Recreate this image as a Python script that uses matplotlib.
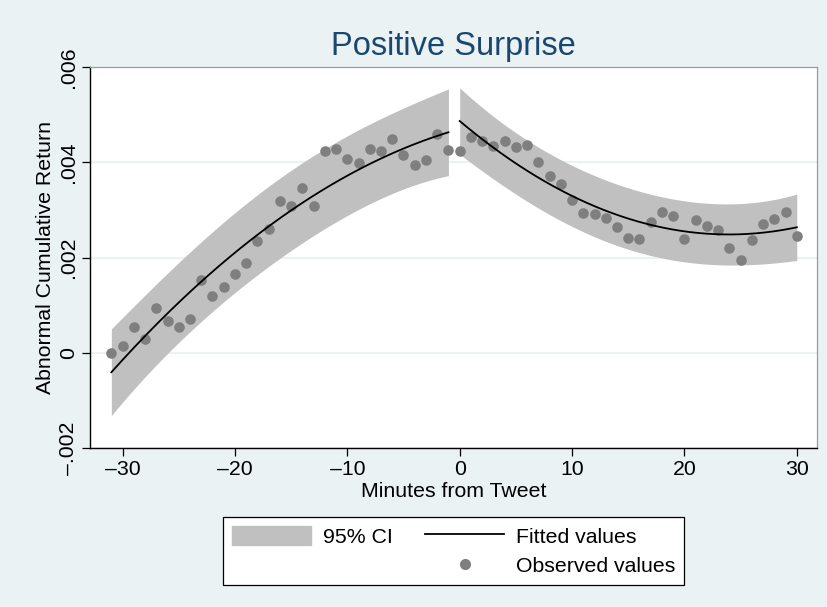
import numpy as np
import matplotlib.pyplot as plt
from matplotlib.patches import Patch
from matplotlib.lines import Line2D

plt.rcParams['font.family'] = ['Liberation Sans', 'DejaVu Sans']

# observed abnormal cumulative returns
minutes_pre = list(range(-31, 0))
car_pre = [0.0000, 0.000147, 0.000546, 0.000281, 0.000932, 0.000665, 0.000546,
           0.000701, 0.00152, 0.001183, 0.001372, 0.001658, 0.001876, 0.00235,
           0.00259, 0.003177, 0.003085, 0.00345, 0.003072, 0.004233, 0.004281,
           0.004059, 0.003988, 0.004281, 0.004233, 0.004491, 0.004143, 0.003946,
           0.004044, 0.004596, 0.004248]
minutes_post = list(range(0, 31))
car_post = [0.004233, 0.004541, 0.004443, 0.004338, 0.00445, 0.004331, 0.004373,
            0.004002, 0.003715, 0.00354, 0.003198, 0.002938, 0.002904, 0.00282,
            0.002644, 0.002401, 0.00238, 0.002749, 0.002946, 0.002875, 0.00238,
            0.002791, 0.002665, 0.002581, 0.002191, 0.001939, 0.002365, 0.0027,
            0.0028, 0.002946, 0.002449]

xticks = [-30, -20, -10, 0, 10, 20, 30]
xtick_labels = ['\u201330', '\u201320', '\u201310', '0', '10', '20', '30']
yticks = [-0.002, 0, 0.002, 0.004, 0.006]
ytick_labels = ['\u2013.002', '0', '.002', '.004', '.006']

BG = '#eaf2f3'
CI_COLOR = '#c0c0c0'
DOT_COLOR = '#7f7f7f'
FS = 15.3


def qfitci(x, y, t=2.048):
    # quadratic fit with forecast interval (like Stata qfitci, stdf)
    x = np.asarray(x, float)
    y = np.asarray(y, float)
    X = np.column_stack([np.ones_like(x), x, x ** 2])
    beta, *_ = np.linalg.lstsq(X, y, rcond=None)
    resid = y - X @ beta
    s2 = resid @ resid / (len(x) - 3)
    xs = np.linspace(x.min(), x.max(), 200)
    Xs = np.column_stack([np.ones_like(xs), xs, xs ** 2])
    xtx_inv = np.linalg.inv(X.T @ X)
    h = np.einsum('ij,jk,ik->i', Xs, xtx_inv, Xs)
    fit = Xs @ beta
    se = np.sqrt(s2 * (1 + h))
    return xs, fit, fit - t * se, fit + t * se


fig = plt.figure(figsize=(8.28, 6.07), dpi=100, facecolor=BG)
ax = fig.add_axes([0.1087, 0.2619, 0.878, 0.6277])
ax.set_facecolor('white')

for xm, ym in [(minutes_pre, car_pre), (minutes_post, car_post)]:
    xs, fit, lo, hi = qfitci(xm, ym)
    ax.fill_between(xs, lo, hi, color=CI_COLOR, lw=0, zorder=1)
    ax.plot(xs, fit, color='black', lw=1.3, zorder=3)

ax.scatter(minutes_pre + minutes_post, car_pre + car_post, s=58,
           color=DOT_COLOR, lw=0, zorder=2)

ax.set_xlim(-32.9, 31.8)
ax.set_ylim(-0.002, 0.006)
ax.set_xticks(xticks)
ax.set_xticklabels(xtick_labels)
ax.set_yticks(yticks)
ax.set_yticklabels(ytick_labels, rotation=90, va='center')
ax.tick_params(direction='out', length=6, width=0.9, labelsize=FS, colors='black',
               pad=2.5)
ax.grid(axis='y', color=BG, lw=1.5, zorder=0)
ax.set_axisbelow(True)

for side in ['left', 'bottom']:
    ax.spines[side].set_color('black')
    ax.spines[side].set_linewidth(1.0)
for side in ['top', 'right']:
    ax.spines[side].set_color('#9a9a9a')
    ax.spines[side].set_linewidth(0.9)

ax.set_title('Positive Surprise', fontsize=23.5, color='#1a476f', pad=9)
ax.set_xlabel('Minutes from Tweet', fontsize=FS, labelpad=2)
ax.set_ylabel('Abnormal Cumulative Return', fontsize=FS, labelpad=3)

handles = [Patch(color=CI_COLOR),
           Patch(alpha=0),
           Line2D([], [], color='black', lw=1.3),
           Line2D([], [], ls='', marker='o', ms=8, color=DOT_COLOR, mec='none')]
labels = ['95% CI', '', 'Fitted values', 'Observed values']
leg = fig.legend(handles, labels, ncol=2, loc='upper center',
                 bbox_to_anchor=(0.548, 0.1483), fontsize=FS, frameon=True,
                 fancybox=False, edgecolor='black', facecolor='white',
                 framealpha=1, handlelength=3.7,
                 handleheight=1.0, handletextpad=0.56, columnspacing=1.55,
                 borderpad=0.42, borderaxespad=0, labelspacing=0.4)
leg.get_frame().set_linewidth(0.9)

fig.savefig('out.png', dpi=100, facecolor=BG)
